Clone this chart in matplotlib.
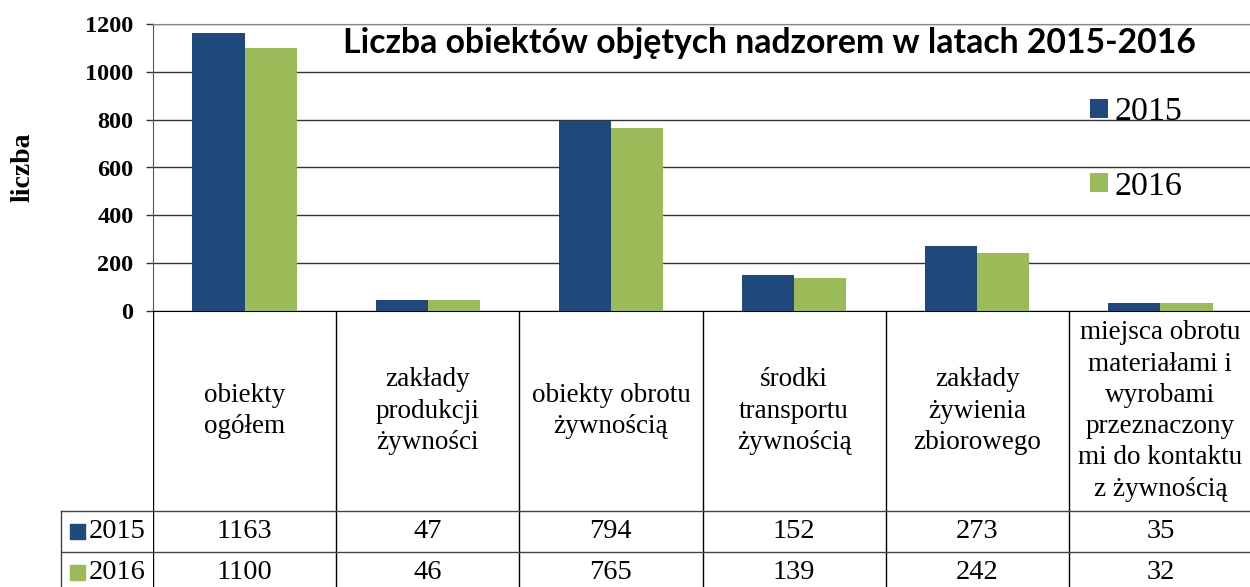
import numpy as np
import matplotlib.pyplot as plt
from matplotlib.patches import Rectangle

plt.rcParams['font.family'] = ['Liberation Serif', 'DejaVu Serif']

# data
categories = ['obiekty\nogółem',
              'zakłady\nprodukcji\nżywności',
              'obiekty obrotu\nżywnością',
              'środki\ntransportu\nżywnością',
              'zakłady\nżywienia\nzbiorowego',
              'miejsca obrotu\nmateriałami i\nwyrobami\nprzeznaczony\nmi do kontaktu\nz żywnością']
years = ['2015', '2016']
values_2015 = [1163, 47, 794, 152, 273, 35]
values_2016 = [1100, 46, 765, 139, 242, 32]
colors = ['#1F497D', '#9BBB59']

W, H = 1250, 587
fig = plt.figure(figsize=(W / 100, H / 100), dpi=100)

# bar chart area
ax = fig.add_axes([153 / W, 1 - 311 / H, 1099 / W, 287 / H])
x = np.arange(len(categories))
bw = 0.285
ax.bar(x - bw / 2, values_2015, bw, color=colors[0], label=years[0], zorder=3)
ax.bar(x + bw / 2, values_2016, bw, color=colors[1], label=years[1], zorder=3)

ax.set_xlim(-0.5, len(categories) - 0.5)
ax.set_ylim(0, 1200)
ax.set_yticks(np.arange(0, 1201, 200))
ax.set_xticks([])
ax.yaxis.grid(True, color='#333333', lw=1)
ax.set_axisbelow(True)
ax.tick_params(axis='y', length=5, width=1, color='#333333', pad=9)
for lbl in ax.get_yticklabels():
    lbl.set_fontsize(17.5)
    lbl.set_fontweight('bold')
ax.spines['right'].set_visible(False)
ax.spines['top'].set_color('#888888')
ax.spines['left'].set_color('#555555')
ax.spines['bottom'].set_color('black')

fig.text(23 / W, 1 - 167 / H, 'liczba', rotation=90, fontsize=20,
         fontweight='bold', ha='center', va='center')

fig.text(769 / W, 1 - 43 / H, 'Liczba obiektów objętych nadzorem w latach 2015-2016',
         family=['Lato', 'DejaVu Sans'], fontweight='bold', fontsize=24.3,
         ha='center', va='center')

ax.legend(loc='upper left', bbox_to_anchor=(1090 / W, 1 - 97 / H),
          bbox_transform=fig.transFigure, frameon=False, fontsize=24.5,
          handlelength=0.53, handleheight=0.5, handletextpad=0.2,
          labelspacing=1.28, borderpad=0, borderaxespad=0)

# data table under the chart
tab = fig.add_axes([153 / W, 0, 1099 / W, 276 / H])
tab.set_xlim(-0.5, len(categories) - 0.5)
tab.set_ylim(276, 0)
tab.axis('off')

unit = 1099 / len(categories)  # pixels per category
for b in np.arange(-0.5, len(categories) - 0.5):
    tab.plot([b, b], [0, 276], color='black', lw=1)
key_left = -0.5 - 92 / unit
for yy in [200, 241]:
    tab.plot([key_left, len(categories) - 0.5], [yy, yy], color='#444444',
             lw=1, clip_on=False)
tab.plot([key_left, key_left], [200, 276], color='#444444', lw=1, clip_on=False)

for i, cat in enumerate(categories):
    tab.text(i, 100, cat, ha='center', va='center', fontsize=19.5, linespacing=1.33)

rows = [values_2015, values_2016]
for r, (yr, vals) in enumerate(zip(years, rows)):
    yc = 220.5 + 41 * r
    for i, v in enumerate(vals):
        tab.text(i, yc, str(v), ha='center', va='center', fontsize=20.5)
    tab.add_patch(Rectangle((key_left + 9 / unit, yc - 7.5), 15 / unit, 15,
                            color=colors[r], clip_on=False))
    tab.text(key_left + 28 / unit, yc, yr, ha='left', va='center', fontsize=20.5)

fig.savefig('out.png', dpi=100)
